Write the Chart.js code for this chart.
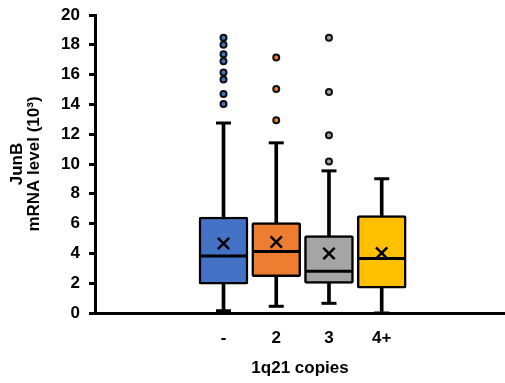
<!DOCTYPE html>
<html>
<head>
<meta charset="utf-8">
<script src="https://cdn.jsdelivr.net/npm/chart.js@4.4.1/dist/chart.umd.min.js"></script>
<style>
  html, body { margin: 0; padding: 0; background: #fff; }
  #wrap { width: 505px; height: 383px; position: relative; }
</style>
</head>
<body>
<div id="wrap"><canvas id="c"></canvas></div>
<script>
// ---- data ----
const categories = ['-', '2', '3', '4+'];
const q1 = [1.94, 2.43, 1.98, 1.67];
const q3 = [6.44, 6.07, 5.20, 6.53];
const medians = [3.83, 4.13, 2.81, 3.66];
const means = [4.66, 4.77, 3.99, 4.03];
const whiskerLow = [0.15, 0.45, 0.65, 0.0];
const whiskerHigh = [12.75, 11.42, 9.54, 9.01];
const outliersDash = [18.48, 18.0, 17.37, 16.9, 16.14, 15.67, 14.7, 14.03];
const outliers2 = [17.14, 15.03, 12.93];
const outliers3 = [18.48, 14.83, 11.93, 10.17];
const outliers4 = [];
const yTicks = [0, 2, 4, 6, 8, 10, 12, 14, 16, 18, 20];

const colors = ['#4472C4', '#ED7D31', '#A5A5A5', '#FFC000'];
const pos = categories.map((_, i) => i + 1);
const outlierSets = [outliersDash, outliers2, outliers3, outliers4];

const FONT = "'Liberation Sans', Arial, Helvetica, sans-serif";
Chart.defaults.font.family = FONT;
Chart.defaults.font.weight = 'bold';
Chart.defaults.font.size = 17;
Chart.defaults.color = '#000';

const outlierPts = [];
const outlierColors = [];
outlierSets.forEach((arr, i) => arr.forEach(v => { outlierPts.push({x: pos[i], y: v}); outlierColors.push(colors[i]); }));

const datasets = [
  { type: 'scatter', label: 'outliers', data: outlierPts, pointStyle: 'circle', pointRadius: 3,
    pointBackgroundColor: outlierColors, pointBorderColor: '#111', pointBorderWidth: 2, order: 0 },
  { type: 'scatter', label: 'mean', data: pos.map((x, i) => ({x, y: means[i]})), pointStyle: 'crossRot',
    pointRadius: 8, pointBorderColor: '#000', pointBorderWidth: 2.5, order: 1 },
  { type: 'scatter', label: 'median', data: pos.map((x, i) => ({x, y: medians[i]})), pointStyle: 'line',
    pointRadius: 24, pointBorderColor: '#000', pointBorderWidth: 3, order: 2 },
  { type: 'bar', label: 'box', data: pos.map((x, i) => ({x, y: [q1[i], q3[i]]})), backgroundColor: colors,
    borderColor: '#000', borderWidth: 2.5, borderSkipped: false, borderRadius: 2, barThickness: 49, grouped: false, order: 3 },
  { type: 'scatter', label: 'caps', data: pos.flatMap((x, i) => [{x, y: whiskerLow[i]}, {x, y: whiskerHigh[i]}]),
    pointStyle: 'line', pointRadius: 7.5, pointBorderColor: '#000', pointBorderWidth: 3, order: 4 },
  { type: 'bar', label: 'whisker', data: pos.map((x, i) => ({x, y: [whiskerLow[i], whiskerHigh[i]]})), backgroundColor: '#000',
    borderWidth: 0, barThickness: 3, grouped: false, order: 5 }
];

new Chart(document.getElementById('c'), {
  type: 'bar',
  data: { datasets },
  options: {
    responsive: true,
    maintainAspectRatio: false,
    animation: false,
    events: [],
    layout: { autoPadding: false, padding: { top: 15, right: 0, left: 0, bottom: 4 } },
    plugins: { legend: { display: false }, tooltip: { enabled: false } },
    scales: {
      x: {
        type: 'linear',
        offset: false,
        min: -1.437,
        max: 6.338,
        afterBuildTicks: s => { s.ticks = pos.map(v => ({ value: v })); },
        afterFit: s => { s.height = 66; s.paddingLeft = 0; s.paddingRight = 0; },
        ticks: { callback: (v) => categories[pos.indexOf(v)] ?? '', padding: 15, font: { size: 17 }, maxRotation: 0, autoSkip: false },
        grid: { drawOnChartArea: false, drawTicks: false },
        border: { display: true, color: '#000', width: 3 },
        title: { display: true, text: '1q21 copies', font: { size: 17 }, padding: { top: 0, bottom: 0 } }
      },
      y: {
        min: 0,
        max: 20,
        afterBuildTicks: s => { s.ticks = yTicks.map(v => ({ value: v })); },
        afterFit: s => { s.width = 95; s.paddingTop = 0; s.paddingBottom = 0; },
        ticks: { padding: 9, font: { size: 17 } },
        grid: { drawOnChartArea: false, drawTicks: true, tickLength: 6, color: '#000', lineWidth: 3 },
        border: { display: true, color: '#000', width: 3 },
        title: { display: true, text: ['JunB', 'mRNA level (10³)'], font: { size: 17, lineHeight: 1.05 }, padding: { top: 8, bottom: 0 } }
      }
    }
  }
});
</script>
</body>
</html>
